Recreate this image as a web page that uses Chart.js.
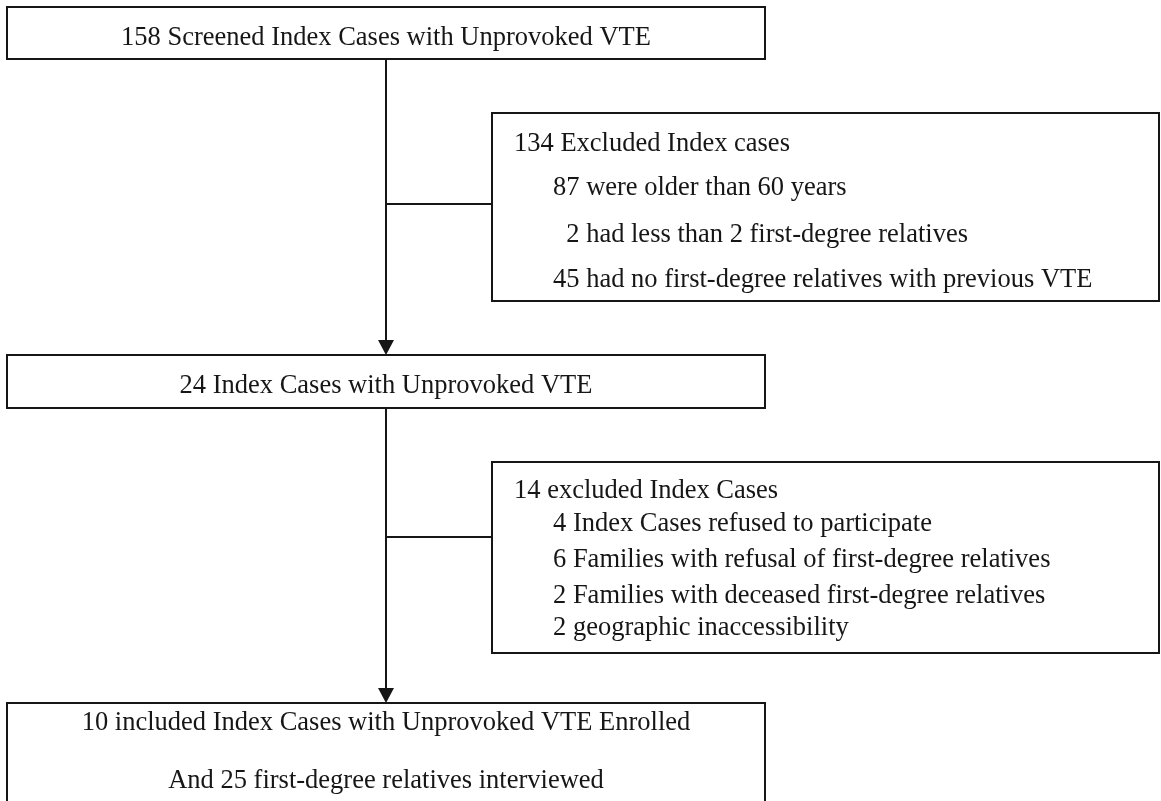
<!DOCTYPE html>
<html>
<head>
<meta charset="utf-8">
<script src="https://cdn.jsdelivr.net/npm/chart.js@4/dist/chart.umd.min.js"></script>
<style>
  html, body { margin: 0; padding: 0; background: #fff; }
  canvas { display: block; }
</style>
</head>
<body>
<canvas id="flowChart" width="1161" height="801"></canvas>
<script>
// counts
const screenedCount = 158;
const firstExcludedCount = 134;
const firstExclusionCounts = [87, 2, 45];
const firstExclusionReasons = [
  "were older than 60 years",
  "had less than 2 first-degree relatives",
  "had no first-degree relatives with previous VTE",
];
const indexCount = 24;
const secondExcludedCount = 14;
const secondExclusionCounts = [4, 6, 2, 2];
const secondExclusionReasons = [
  "Index Cases refused to participate",
  "Families with refusal of first-degree relatives",
  "Families with deceased first-degree relatives",
  "geographic inaccessibility",
];
const includedCount = 10;
const relativesCount = 25;

// layout (diagram units = pixels of the 1161x801 view)
const mainX = [7, 765];
const sideX = [492, 1159];
const stemX = 386;
const boxes = [
  { x: mainX, y: [7, 59] },
  { x: sideX, y: [113, 301] },
  { x: mainX, y: [355, 408] },
  { x: sideX, y: [462, 653] },
  { x: mainX, y: [703, 830] },
];
const links = [
  [[stemX, 59], [stemX, 341]],
  [[stemX, 204], [sideX[0], 204]],
  [[stemX, 408], [stemX, 688]],
  [[stemX, 537], [sideX[0], 537]],
];
const arrowTips = [[stemX, 355], [stemX, 703]];

const FONT = '26.5px "Liberation Serif", "Times New Roman", serif';
const INK = "#161616";

// text blocks
const centered = [
  { y: 45, text: screenedCount + " Screened Index Cases with Unprovoked VTE" },
  { y: 393, text: indexCount + " Index Cases with Unprovoked VTE" },
  { y: 730, text: includedCount + " included Index Cases with Unprovoked VTE Enrolled" },
  { y: 788, text: "And " + relativesCount + " first-degree relatives interviewed" },
];
const sideBlocks = [
  {
    header: firstExcludedCount + " Excluded Index cases",
    headerY: 151,
    counts: firstExclusionCounts,
    reasons: firstExclusionReasons,
    ys: [195, 242, 287],
  },
  {
    header: secondExcludedCount + " excluded Index Cases",
    headerY: 498,
    counts: secondExclusionCounts,
    reasons: secondExclusionReasons,
    ys: [531, 567, 603, 635],
  },
];

function rect(b) {
  return [
    { x: b.x[0], y: b.y[0] }, { x: b.x[1], y: b.y[0] },
    { x: b.x[1], y: b.y[1] }, { x: b.x[0], y: b.y[1] },
    { x: b.x[0], y: b.y[0] },
  ];
}

const lineStyle = {
  showLine: true,
  borderColor: INK,
  borderWidth: 2,
  pointRadius: 0,
  borderJoinStyle: "miter",
  borderCapStyle: "square",
  tension: 0,
  clip: false,
};

const datasets = [];
boxes.forEach(b => datasets.push(Object.assign({ data: rect(b) }, lineStyle)));
links.forEach(l => datasets.push(Object.assign({ data: l.map(p => ({ x: p[0], y: p[1] })) }, lineStyle, { borderCapStyle: "butt" })));

const flowText = {
  id: "flowText",
  afterDatasetsDraw(chart) {
    const { ctx } = chart;
    const sx = chart.scales.x, sy = chart.scales.y;
    ctx.save();

    // arrow heads
    ctx.fillStyle = INK;
    arrowTips.forEach(t => {
      const px = sx.getPixelForValue(t[0]), py = sy.getPixelForValue(t[1]);
      ctx.beginPath();
      ctx.moveTo(px, py);
      ctx.lineTo(px - 8, py - 15);
      ctx.lineTo(px + 8, py - 15);
      ctx.closePath();
      ctx.fill();
    });

    ctx.font = FONT;
    ctx.textBaseline = "alphabetic";

    const cx = sx.getPixelForValue((mainX[0] + mainX[1]) / 2);
    ctx.textAlign = "center";
    centered.forEach(c => ctx.fillText(c.text, cx, sy.getPixelForValue(c.y)));

    ctx.textAlign = "left";
    const headX = sx.getPixelForValue(514);
    const itemX = sx.getPixelForValue(553);
    sideBlocks.forEach(blk => {
      ctx.fillText(blk.header, headX, sy.getPixelForValue(blk.headerY));
      const maxDigits = Math.max(...blk.counts.map(n => String(n).length));
      blk.counts.forEach((n, i) => {
        const pad = ctx.measureText("0".repeat(maxDigits - String(n).length)).width;
        ctx.fillText(n + " " + blk.reasons[i], itemX + pad, sy.getPixelForValue(blk.ys[i]));
      });
    });
    ctx.restore();
  },
};

new Chart(document.getElementById("flowChart"), {
  type: "scatter",
  data: { datasets },
  options: {
    responsive: false,
    animation: false,
    events: [],
    layout: { padding: 0 },
    plugins: { legend: { display: false }, tooltip: { enabled: false } },
    scales: {
      x: { type: "linear", min: 0, max: 1161, display: false },
      y: { type: "linear", min: 0, max: 801, reverse: true, display: false },
    },
  },
  plugins: [flowText],
});
</script>
</body>
</html>
